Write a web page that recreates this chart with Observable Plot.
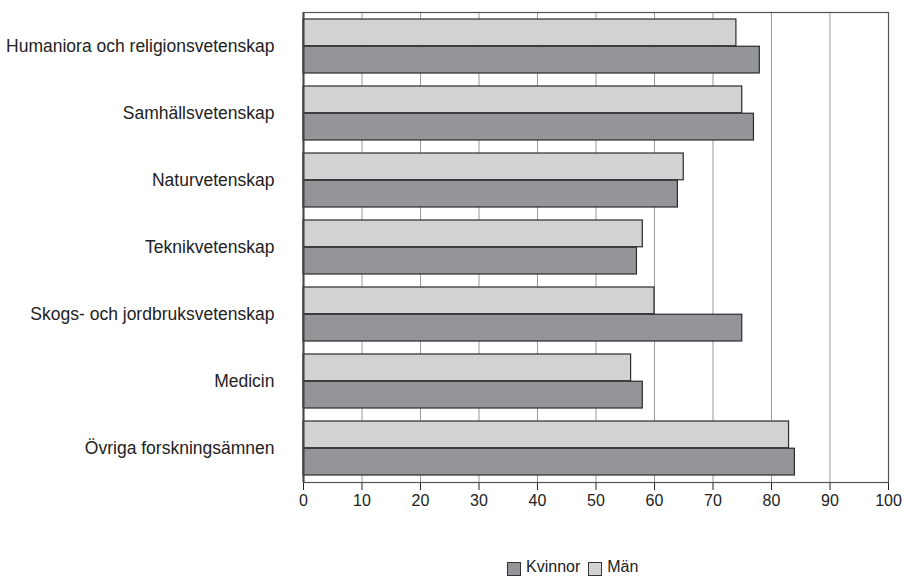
<!DOCTYPE html>
<html><head><meta charset="utf-8">
<script src="https://cdn.jsdelivr.net/npm/d3@7"></script>
<script src="https://cdn.jsdelivr.net/npm/@observablehq/plot@0.6"></script>
<style>
body{margin:0;background:#fff;font-family:"Liberation Sans",Arial,sans-serif;color:#222;}
#wrap{position:relative;width:905px;height:579px;overflow:hidden;}
#legend{position:absolute;left:507px;top:558px;display:flex;align-items:center;font-size:16px;line-height:18px;}
#legend .sw{display:inline-block;width:12px;height:12px;border:1px solid #333;margin-right:5px;position:relative;top:2px;}
#legend .item{display:flex;align-items:center;margin-right:8px;}
</style></head><body>
<div id="wrap"><div id="chart"></div><div id="legend"></div></div>
<script>
const categories = [
  "Humaniora och religionsvetenskap",
  "Samhällsvetenskap",
  "Naturvetenskap",
  "Teknikvetenskap",
  "Skogs- och jordbruksvetenskap",
  "Medicin",
  "Övriga forskningsämnen"
];
const kvinnor = [78, 77, 64, 57, 75, 58, 84];
const man = [74, 75, 65, 58, 60, 56, 83];
const seriesNames = ["Kvinnor", "Män"];
const seriesColors = ["#939598", "#d1d2d4"];
const xTicks = [0, 10, 20, 30, 40, 50, 60, 70, 80, 90, 100];

const W = 905, H = 520, mt = 12, mb = 38, ml = 303, mr = 17;
const pIn = 0.19, pOut = 0.09;
const yS = Plot.scale({y: {type: "band", domain: categories, range: [mt, H - mb], paddingInner: pIn, paddingOuter: pOut}});
const half = yS.bandwidth / 2;

const dataMan = categories.map((c, i) => ({cat: c, value: man[i]}));
const dataKv = categories.map((c, i) => ({cat: c, value: kvinnor[i]}));

const plot = Plot.plot({
  width: W, height: H,
  marginTop: mt, marginBottom: mb, marginLeft: ml, marginRight: mr,
  style: {fontSize: "16px", fontFamily: "'Liberation Sans', Arial, sans-serif", color: "#222", background: "#fff", overflow: "visible"},
  x: {domain: [0, 100], ticks: xTicks, tickSize: 8, tickPadding: 4, label: null},
  y: {type: "band", domain: categories, paddingInner: pIn, paddingOuter: pOut, tickSize: 0, tickPadding: 29, label: null},
  marks: [
    Plot.ruleX(xTicks.slice(1), {stroke: "#9a9a9a", strokeWidth: 1}),
    Plot.barX(dataMan, {x: "value", y: "cat", fill: seriesColors[1], stroke: "#2b2b2b", strokeWidth: 1.2, insetBottom: half}),
    Plot.barX(dataKv, {x: "value", y: "cat", fill: seriesColors[0], stroke: "#2b2b2b", strokeWidth: 1.2, insetTop: half}),
    Plot.frame({stroke: "#555", strokeWidth: 1.2}),
    Plot.ruleX([0], {stroke: "#444", strokeWidth: 2})
  ]
});
d3.select(plot).selectAll("text")
  .filter(function() { return categories.includes(this.textContent); })
  .attr("font-size", "17.5px")
  .style("font-size", "17.5px");
document.getElementById("chart").appendChild(plot);

const leg = document.getElementById("legend");
seriesNames.forEach((n, i) => {
  const it = document.createElement("span");
  it.className = "item";
  const sw = document.createElement("span");
  sw.className = "sw";
  sw.style.background = seriesColors[i];
  it.appendChild(sw);
  it.appendChild(document.createTextNode(n));
  leg.appendChild(it);
});
</script>
</body></html>
